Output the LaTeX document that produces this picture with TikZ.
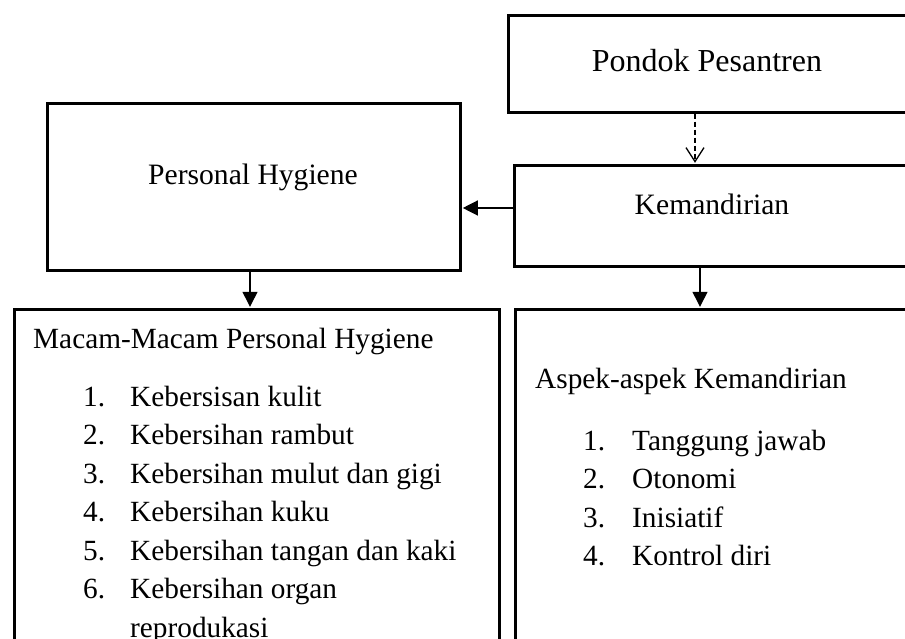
\documentclass[tikz,border=0pt]{standalone}
\usepackage{fontspec}
\setmainfont{Liberation Serif}
\usetikzlibrary{arrows.meta}
\begin{document}
\begin{tikzpicture}[x=1pt,y=-1pt,
  box/.style={draw,line width=2.6pt,rectangle,anchor=north west,inner sep=0},
  lbl/.style={anchor=base,inner sep=0,font=\fontsize{29.6}{38.5}\selectfont},
  itm/.style={anchor=base west,inner sep=0,font=\fontsize{29.3}{38.5}\selectfont},
  arr/.style={line width=1.3pt,-{Triangle[length=15pt,width=15pt]},shorten >=1.2pt},
  darr/.style={line width=1.3pt,dash pattern=on 5pt off 3pt,-{Straight Barb[length=14pt,width=18pt,line width=1.3pt]},shorten >=1.2pt}]
\useasboundingbox (0,0) rectangle (905,639);
\clip (0,0) rectangle (905,639);
% boxes
\node[box,minimum width=460pt,minimum height=97pt] (pp) at (507,14) {};
\node[box,minimum width=460pt,minimum height=101pt] (ke) at (513,164) {};
\node[box,minimum width=413pt,minimum height=167pt] (ph) at (46,102) {};
\node[box,minimum width=485pt,minimum height=400pt] (mm) at (13,308) {};
\node[box,minimum width=460pt,minimum height=400pt] (as) at (514,308) {};
% labels
\node[lbl,font=\fontsize{32}{38.5}\selectfont] (tpp) at (707,72) {Pondok Pesantren};
\node[lbl] (tph) at (253,185) {Personal Hygiene};
\node[lbl] (tke) at (712,215) {Kemandirian};
\node[itm] (tmm) at (33,348) {Macam-Macam Personal Hygiene};
\foreach \n/\t/\y [count=\i] in {1./Kebersisan kulit/406, 2./Kebersihan rambut/444.5, 3./Kebersihan mulut dan gigi/483, 4./Kebersihan kuku/521.5, 5./Kebersihan tangan dan kaki/560, 6./Kebersihan organ/598.5}{
  \node[itm] (mn\i) at (83,\y) {\n};
  \node[itm] (mt\i) at (130,\y) {\t};
}
\node[itm] (mt7) at (130,637) {reprodukasi};
\node[itm] (tas) at (535,388) {Aspek-aspek Kemandirian};
\foreach \n/\t/\y [count=\i] in {1./Tanggung jawab/450, 2./Otonomi/488.5, 3./Inisiatif/527, 4./Kontrol diri/565.5}{
  \node[itm] (an\i) at (583,\y) {\n};
  \node[itm] (at\i) at (632,\y) {\t};
}
% connectors
\coordinate (xd) at (695,0);
\coordinate (xph) at (250,0);
\coordinate (xke) at (700,0);
\coordinate (yh) at (0,208);
\draw[darr] (pp.south -| xd) -- (ke.north -| xd);
\draw[arr] (ke.west |- yh) -- (ph.east |- yh);
\draw[arr] (ph.south -| xph) -- (mm.north -| xph);
\draw[arr] (ke.south -| xke) -- (as.north -| xke);
\end{tikzpicture}
\end{document}
